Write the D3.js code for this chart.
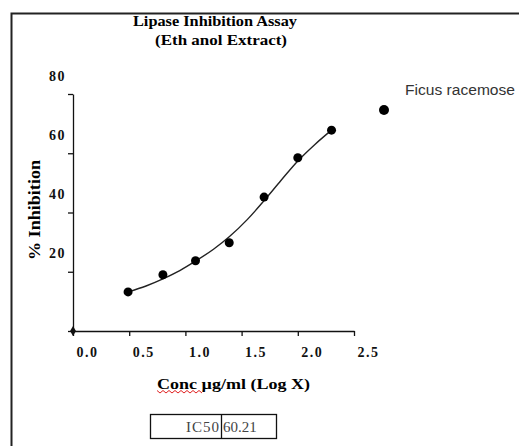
<!DOCTYPE html>
<html>
<head>
<meta charset="utf-8">
<script src="https://cdn.jsdelivr.net/npm/d3@7"></script>
<style>
    body { margin: 0; background: #fff; }
    .serif { font-family: "Liberation Serif", "Times New Roman", serif; }
    .axis text { font-family: "Liberation Serif", serif; font-weight: bold; font-size: 14px; letter-spacing: 1.5px; fill: #111; }
    .axis path, .axis line { stroke: #111; stroke-width: 1.3px; }
</style>
</head>
<body>
<div id="chart"></div>
<script>
// data (x = log10 conc, y = % inhibition)
var concLog = [0.49, 0.80, 1.09, 1.39, 1.70, 2.00, 2.30];
var inhibition = [13.2, 19.0, 23.7, 29.8, 45.2, 58.5, 67.8];
// fitted curve as drawn in the picture
var fitX = [0.49, 0.65, 0.80, 0.95, 1.09, 1.25, 1.39, 1.55, 1.70, 1.85, 2.00, 2.15, 2.30];
var fitY = [13.2, 15.2, 17.6, 20.4, 23.6, 27.6, 31.8, 37.6, 44.0, 50.8, 57.4, 62.9, 67.8];
var xTicks = [0.0, 0.5, 1.0, 1.5, 2.0, 2.5];
var yTicks = [0, 20, 40, 60, 80];
var seriesName = ["Ficus racemose"];
var ic50 = ["IC50", "60.21"];

(function () {
    'use strict';

    var width = 519,
        height = 446;

    var svg = d3.select("#chart").append("svg")
                .attr("width", width)
                .attr("height", height);

    // frame (clipped at right / bottom like the scan)
    svg.append("path")
       .attr("d", "M11.5," + height + "V13.5H" + width)
       .attr("fill", "none")
       .attr("stroke", "#222")
       .attr("stroke-width", 2);

    var x = d3.scaleLinear().domain([0, 2.5]).range([73, 354]);
    var y = d3.scaleLinear().domain([0, 80]).range([331, 94]);

    var xAxis = svg.append("g")
                   .attr("class", "axis")
                   .attr("transform", "translate(0," + y(0) + ")")
                   .call(d3.axisBottom(x).tickValues(xTicks).tickSize(5).tickSizeOuter(0).tickFormat(d3.format(".1f")));
    xAxis.selectAll("text").attr("y", 16).attr("dx", 14);

    var yAxis = svg.append("g")
                   .attr("class", "axis")
                   .attr("transform", "translate(" + x(0) + ",0)")
                   .call(d3.axisLeft(y).tickValues(yTicks).tickSize(5).tickSizeOuter(0)
                          .tickFormat(function (d) { return d === 0 ? "" : d; }));
    // labels sit above their ticks in the original
    yAxis.selectAll("text").attr("dy", "-1.0em").attr("x", -7);

    // marker at origin
    svg.append("path")
       .attr("d", d3.symbol(d3.symbolDiamond, 30)())
       .attr("transform", "translate(" + x(0) + "," + y(0) + ")")
       .attr("fill", "#111");

    var fit = fitX.map(function (c, i) { return [c, fitY[i]]; });
    var pts = concLog.map(function (c, i) { return [c, inhibition[i]]; });

    var line = d3.line()
                 .x(function (d) { return x(d[0]); })
                 .y(function (d) { return y(d[1]); })
                 .curve(d3.curveMonotoneX);

    svg.append("path")
       .datum(fit)
       .attr("d", line)
       .attr("fill", "none")
       .attr("stroke", "#222")
       .attr("stroke-width", 1.4);

    svg.selectAll(".pt")
       .data(pts)
       .enter().append("circle")
       .attr("class", "pt")
       .attr("cx", function (d) { return x(d[0]); })
       .attr("cy", function (d) { return y(d[1]); })
       .attr("r", 4.5)
       .attr("fill", "#000");

    // legend
    svg.append("circle")
       .attr("cx", 384).attr("cy", 110).attr("r", 5)
       .attr("fill", "#000");
    svg.append("text")
       .attr("x", 405).attr("y", 95)
       .style("font-family", "'Liberation Sans', Arial, sans-serif")
       .style("font-size", "14px")
       .style("fill", "#333")
       .attr("textLength", 110)
       .attr("lengthAdjust", "spacingAndGlyphs")
       .text(seriesName[0]);

    // titles
    svg.append("text")
       .attr("class", "serif")
       .attr("x", 133).attr("y", 26)
       .style("font-size", "15px").style("font-weight", "bold")
       .attr("textLength", 164)
       .attr("lengthAdjust", "spacingAndGlyphs")
       .text("Lipase Inhibition Assay");
    svg.append("text")
       .attr("class", "serif")
       .attr("x", 155).attr("y", 45)
       .style("font-size", "15px").style("font-weight", "bold")
       .attr("textLength", 132)
       .attr("lengthAdjust", "spacingAndGlyphs")
       .text("(Eth anol Extract)");

    svg.append("text")
       .attr("class", "serif")
       .attr("transform", "translate(40,260) rotate(-90)")
       .style("font-size", "16px").style("font-weight", "bold")
       .attr("textLength", 100)
       .attr("lengthAdjust", "spacingAndGlyphs")
       .text("% Inhibition");

    svg.append("text")
       .attr("class", "serif")
       .attr("x", 157).attr("y", 389)
       .style("font-size", "15px").style("font-weight", "bold")
       .attr("textLength", 153)
       .attr("lengthAdjust", "spacingAndGlyphs")
       .text("Conc µg/ml (Log X)");

    // red spell-check squiggle under "Conc"
    var sq = d3.range(157, 203, 3).map(function (v, i) { return [v, i % 2 ? 393 : 390.5]; });
    svg.append("path")
       .attr("d", d3.line()(sq))
       .attr("fill", "none")
       .attr("stroke", "#e02020")
       .attr("stroke-width", 1);

    // IC50 box
    var box = svg.append("g").attr("class", "serif");
    box.append("rect")
       .attr("x", 150.5).attr("y", 414.5).attr("width", 126).attr("height", 24)
       .attr("fill", "none").attr("stroke", "#111").attr("stroke-width", 1.3);
    box.append("line")
       .attr("x1", 221.5).attr("x2", 221.5).attr("y1", 414.5).attr("y2", 438.5)
       .attr("stroke", "#111").attr("stroke-width", 1.3);
    box.append("text")
       .attr("x", 220).attr("y", 432)
       .attr("text-anchor", "end")
       .style("font-size", "15px").style("fill", "#444")
       .attr("letter-spacing", "1px")
       .text(ic50[0]);
    box.append("text")
       .attr("x", 223).attr("y", 432)
       .style("font-size", "15px").style("fill", "#444")
       .text(ic50[1]);

})();
</script>
</body>
</html>
